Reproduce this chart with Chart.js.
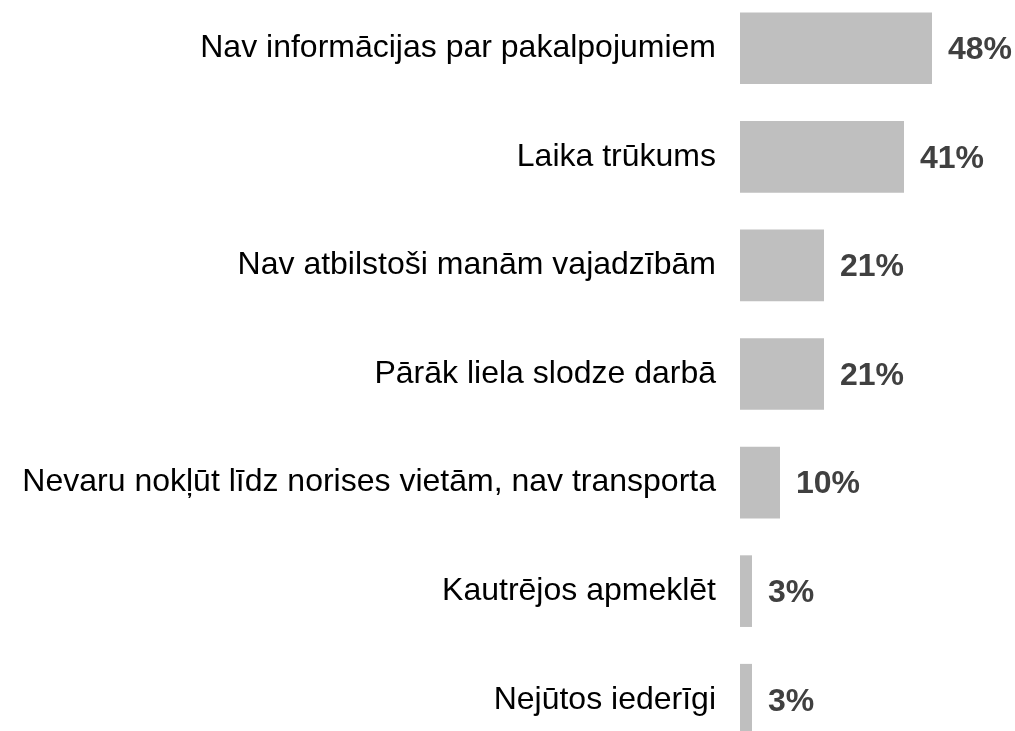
<!DOCTYPE html>
<html>
<head>
<meta charset="utf-8">
<script src="https://cdn.jsdelivr.net/npm/chart.js@4"></script>
<style>
  html, body { margin: 0; padding: 0; background: #fff; overflow: hidden; }
  #wrap { position: absolute; left: 0; top: -6px; }
</style>
</head>
<body>
<div id="wrap"><canvas id="chart" width="1015" height="760"></canvas></div>
<script>
const categories = [
  'Nav informācijas par pakalpojumiem',
  'Laika trūkums',
  'Nav atbilstoši manām vajadzībām',
  'Pārāk liela slodze darbā',
  'Nevaru nokļūt līdz norises vietām, nav transporta',
  'Kautrējos apmeklēt',
  'Nejūtos iederīgi'
];
const values = [48, 41, 21, 21, 10, 3, 3];

// value labels drawn just after each bar
const valueLabels = {
  id: 'valueLabels',
  afterDatasetsDraw(chart) {
    const ctx = chart.ctx;
    const meta = chart.getDatasetMeta(0);
    ctx.save();
    ctx.font = 'bold 32px "Liberation Sans", Arial, sans-serif';
    ctx.fillStyle = '#404040';
    ctx.textAlign = 'left';
    ctx.textBaseline = 'middle';
    meta.data.forEach((bar, i) => {
      ctx.fillText(values[i] + '%', bar.x + 16, bar.y + 2);
    });
    ctx.restore();
  }
};

const ctx = document.getElementById('chart').getContext('2d');
new Chart(ctx, {
  type: 'bar',
  data: {
    labels: categories,
    datasets: [{
      data: values,
      backgroundColor: '#bfbfbf',
      borderWidth: 0,
      barPercentage: 0.66,
      categoryPercentage: 1
    }]
  },
  options: {
    indexAxis: 'y',
    responsive: false,
    animation: false,
    layout: { padding: { left: 0, right: 35, top: 0, bottom: 0 } },
    plugins: {
      legend: { display: false },
      tooltip: { enabled: false }
    },
    scales: {
      x: {
        display: false,
        min: 0,
        max: 60
      },
      y: {
        afterFit(scale) {
          scale.width = 740;
          scale.paddingTop = 0;
          scale.paddingBottom = 0;
        },
        grid: { display: false, drawTicks: false },
        border: { display: false },
        ticks: {
          padding: 24,
          color: '#000',
          font: { family: '"Liberation Sans", Arial, sans-serif', size: 32 }
        }
      }
    }
  },
  plugins: [valueLabels]
});
</script>
</body>
</html>
